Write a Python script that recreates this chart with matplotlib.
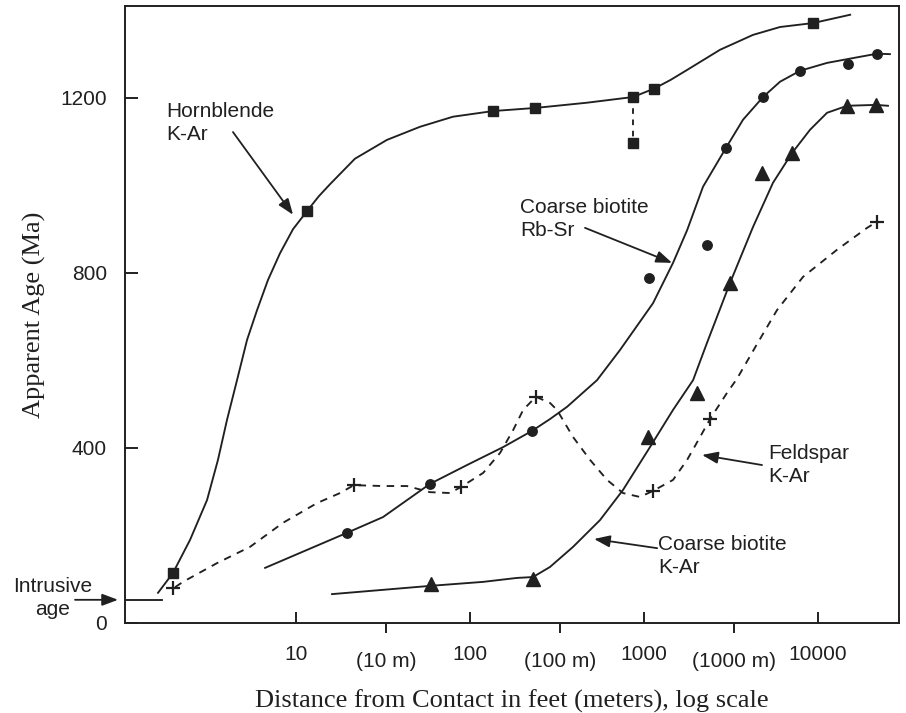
import matplotlib
matplotlib.use('Agg')
import matplotlib.pyplot as plt
from matplotlib.ticker import FixedLocator, FixedFormatter
from matplotlib import transforms

# distance from contact (feet) and apparent age (Ma)
hbl_curve_x = [1.61, 1.96, 2.46, 3.08, 3.56, 4.01, 4.58, 5.23, 5.97, 6.90, 8.09, 9.61, 11.6,
               13.5, 15.7, 21.8, 33.3, 51.6, 79.8, 136, 237, 470, 865, 1140, 1420, 1770,
               2735, 4230, 6050, 9360, 15300]
hbl_curve_y = [69, 114, 190, 281, 373, 464, 555, 647, 715, 784, 845, 900, 942,
               975, 1003, 1061, 1104, 1134, 1157, 1170, 1177, 1189, 1202, 1221, 1241, 1264,
               1310, 1344, 1362, 1371, 1390]
hbl_pts_x = [1.96, 11.6, 136, 237, 865, 1140, 9360]
hbl_pts_y = [114, 942, 1170, 1177, 1202, 1221, 1371]
hbl_low_x = [865, 865]
hbl_low_y = [1202, 1097]

rbsr_curve_x = [6.64, 19.6, 31.6, 58.9, 96.1, 155, 227, 288, 361, 537, 728, 1127, 1468,
                1770, 2183, 2960, 3705, 4830, 6050, 7890, 11270, 15900, 21830, 25900]
rbsr_curve_y = [126, 206, 242, 318, 361, 402, 439, 466, 494, 555, 624, 731, 823,
                898, 997, 1086, 1150, 1202, 1237, 1262, 1280, 1291, 1301, 1300]
rbsr_pts_x = [19.6, 58.9, 227, 1069, 2300, 2960, 4830, 7890, 14900, 21830]
rbsr_pts_y = [206, 318, 439, 789, 864, 1086, 1202, 1262, 1278, 1301]

bt_curve_x = [16.1, 59.7, 119, 186, 230, 288, 391, 558, 757, 1082, 1468, 1914, 2300,
              3120, 4230, 5510, 7090, 8990, 11270, 14690, 21540, 25240]
bt_curve_y = [66, 85, 94, 103, 105, 128, 174, 235, 304, 402, 487, 555, 640,
              777, 905, 1006, 1074, 1127, 1166, 1182, 1184, 1182]
bt_pts_x = [59.7, 230, 1055, 2017, 3120, 4765, 7090, 14690, 21540]
bt_pts_y = [89, 101, 425, 526, 777, 1029, 1074, 1182, 1184]

fsp_curve_x = [2.02, 2.24, 3.52, 5.44, 8.42, 13.2, 17.9, 21.5, 31.6, 43.4, 58.9, 76.7,
               88.8, 119, 149, 177, 202, 239, 288, 316, 391, 489, 613, 757, 948, 1127,
               1468, 1770, 2099, 2395, 3000, 3420, 4500, 5810, 8200, 12860, 19140, 21830]
fsp_curve_y = [82, 94, 137, 174, 229, 274, 297, 315, 313, 313, 299, 297,
               311, 343, 389, 441, 487, 517, 503, 487, 425, 373, 327, 297, 288, 302,
               327, 373, 425, 466, 526, 558, 640, 715, 791, 853, 903, 917]
fsp_pts_x = [1.96, 21.5, 88.8, 239, 1127, 2395, 21830]
fsp_pts_y = [80, 315, 311, 517, 302, 466, 917]

intrusive_x = [1.04, 1.70]
intrusive_age = 53

feet_ticks = [10, 100, 1000, 10000]
feet_labels = ['10', '100', '1000', '10000']
meter_ticks = [32.8, 328, 3280]
meter_labels = ['(10 m)', '(100 m)', '(1000 m)']
age_ticks = [0, 400, 800, 1200]
age_labels = ['0', '400', '800', '1200']

INK = '#202020'
SANS = 'Liberation Sans'
SERIF = 'Liberation Serif'


def arrow(ax, tail, head, **kw):
    ax.annotate('', xy=head, xytext=tail,
                arrowprops=dict(arrowstyle='-|>,head_length=0.8,head_width=0.3',
                                color=INK, lw=1.3, mutation_scale=12,
                                shrinkA=0, shrinkB=0), **kw)


def _main():
    fig = plt.figure(figsize=(9.06, 7.13), dpi=100)
    ax = fig.add_axes([125 / 906, 90 / 713, 774 / 906, 617 / 713])
    ax.set_xscale('log')
    ax.set_xlim(1.04, 29200)
    ax.set_ylim(0, 1410)

    lw = 1.35
    ax.plot(hbl_curve_x, hbl_curve_y, color=INK, lw=lw)
    ax.plot(hbl_low_x, hbl_low_y, color=INK, lw=lw, ls=(0, (3, 3)))
    ax.plot(hbl_pts_x, hbl_pts_y, 's', color=INK, ms=7.3)
    ax.plot([hbl_low_x[1]], [hbl_low_y[1]], 's', color=INK, ms=7.3)

    ax.plot(rbsr_curve_x, rbsr_curve_y, color=INK, lw=lw)
    ax.plot(rbsr_pts_x, rbsr_pts_y, 'o', color=INK, ms=6.8)

    ax.plot(bt_curve_x, bt_curve_y, color=INK, lw=lw)
    ax.plot(bt_pts_x, bt_pts_y, '^', color=INK, ms=10.5)

    ax.plot(fsp_curve_x, fsp_curve_y, color=INK, lw=lw, ls=(0, (4, 3.5)))
    ax.plot(fsp_pts_x, fsp_pts_y, '+', color=INK, ms=10, mew=1.6)

    ax.plot(intrusive_x, [intrusive_age] * 2, color=INK, lw=lw)

    # axes styling
    for side in ['left', 'bottom', 'top', 'right']:
        ax.spines[side].set_linewidth(1.4)
        ax.spines[side].set_color(INK)

    ax.yaxis.set_major_locator(FixedLocator(age_ticks))
    ax.yaxis.set_major_formatter(FixedFormatter(age_labels))
    ax.yaxis.set_minor_locator(FixedLocator([]))
    ax.tick_params(axis='y', direction='in', length=9.5, width=1.4, pad=13,
                   colors=INK, labelsize=15)

    ax.xaxis.set_major_locator(FixedLocator(feet_ticks))
    ax.xaxis.set_major_formatter(FixedFormatter(feet_labels))
    ax.xaxis.set_minor_locator(FixedLocator(meter_ticks))
    ax.xaxis.set_minor_formatter(FixedFormatter(meter_labels))
    ax.tick_params(axis='x', which='major', direction='in', length=8, width=1.4,
                   pad=16, colors=INK, labelsize=15)
    ax.tick_params(axis='x', which='minor', direction='out', length=7.2, width=1.4,
                   pad=13.5, colors=INK, labelsize=15)
    for lab in ax.get_xticklabels(which='both') + ax.get_yticklabels():
        lab.set_family(SANS)

    ax.set_xlabel('Distance from Contact in feet (meters), log scale',
                  family=SERIF, fontsize=19, color=INK)
    ax.xaxis.set_label_coords(0.5, -0.108)
    ax.set_ylabel('Apparent Age (Ma)', family=SERIF, fontsize=19, color=INK)
    ax.yaxis.set_label_coords(-0.102, 0.5)

    # curve labels
    txt = dict(family=SANS, fontsize=15, color=INK, ha='left', va='center',
               linespacing=1.3)
    ax.text(1.79, 1143, 'Hornblende\nK-Ar', **txt)
    arrow(ax, (4.34, 1122), (9.61, 933))
    ax.text(194, 923, 'Coarse biotite\nRb-Sr', **txt)
    arrow(ax, (458, 903), (1449, 823))
    ax.text(5160, 361, 'Feldspar\nK-Ar', **txt)
    arrow(ax, (4765, 361), (2155, 384))
    ax.text(1203, 153, 'Coarse biotite\nK-Ar', **txt)
    arrow(ax, (1190, 171), (516, 192))

    # intrusive age marker outside the left spine
    blend = transforms.blended_transform_factory(ax.transAxes, ax.transData)
    ax.text(-0.093, 57, 'Intrusive\nage', transform=blend, family=SANS,
            fontsize=15, color=INK, ha='center', va='center',
            multialignment='center', linespacing=1.3)
    arrow(ax, (-0.0646, intrusive_age), (-0.009, intrusive_age),
          xycoords=blend, textcoords=blend, annotation_clip=False)

    fig.savefig('out.png', dpi=100)


if __name__ == '__main__':
    _main()
